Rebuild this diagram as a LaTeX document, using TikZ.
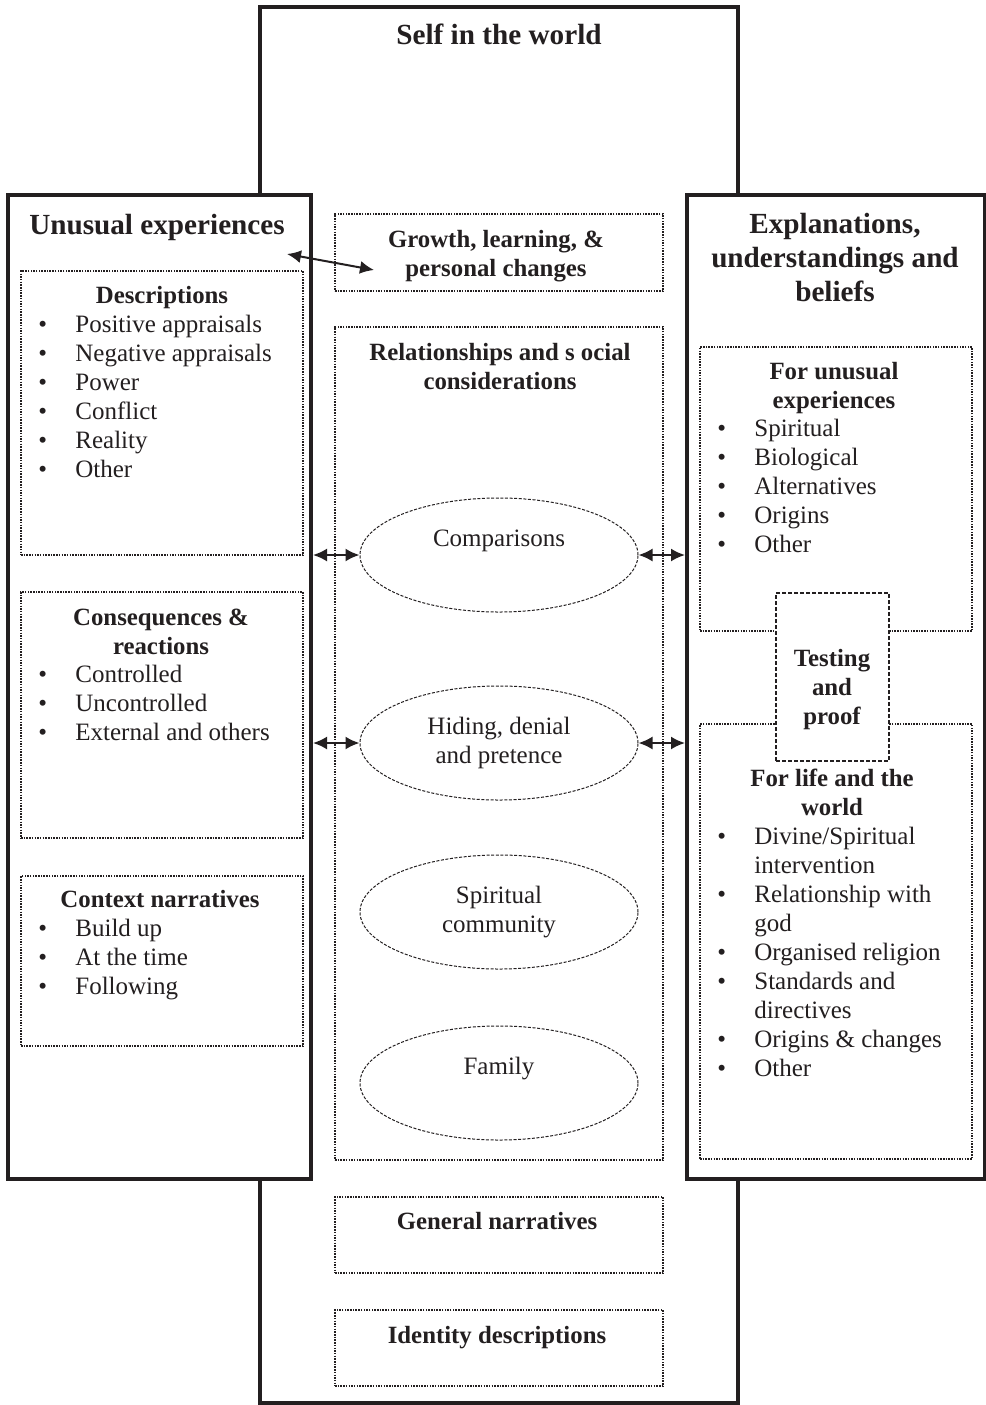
\documentclass[tikz,border=0pt]{standalone}
\usepackage{fontspec}
\setmainfont{Liberation Serif}
\usetikzlibrary{arrows.meta,shapes.geometric,fit}
\definecolor{dk}{HTML}{231F20}
\newcommand\bodyf{\fontsize{12.5pt}{14.5pt}\selectfont}
\newcommand\headf{\fontsize{12.4pt}{14.5pt}\selectfont\bfseries}
\newcommand\bigf{\fontsize{14.6pt}{17pt}\selectfont\bfseries}
\newcommand\clines[1]{\begin{tabular}[t]{@{}c@{}}#1\end{tabular}}
\newcommand\blist[1]{\begin{tabular}[t]{@{}p{18.5pt}@{}l@{}}#1\end{tabular}}
\newcommand\bul{\textbullet}
\begin{document}
\begin{tikzpicture}[x=0.5pt,y=-0.5pt,
  thickline/.style={draw=dk, line width=2pt},
  thickbox/.style={draw=dk, line width=2pt, inner sep=0},
  dotbox/.style={draw=dk, line width=0.75pt, dash pattern=on 0.75pt off 0.6pt, inner sep=0},
  dashbox/.style={draw=dk, line width=0.65pt, dash pattern=on 2pt off 1pt, inner sep=0},
  ell/.style={ellipse, draw=dk, line width=0.5pt, dash pattern=on 1.5pt off 0.8pt, minimum width=139pt, minimum height=57pt, inner sep=0, text=dk},
  txt/.style={inner sep=0, text=dk},
  dbl/.style={draw=dk, line width=1pt, {Latex[length=7pt,width=6.5pt]}-{Latex[length=7pt,width=6.5pt]}}]
\useasboundingbox (0,0) rectangle (986,1405);
\fill[white] (0,0) rectangle (986,1405);
% main frames
\node[thickbox, fit={(8,195)(311,1179)}] (L) {};
\node[thickbox, fit={(687,195)(985,1179)}] (R) {};
\node[inner sep=0, fit={(260,7)(738,1403)}] (S) {};
\draw[thickline] (S.north west |- L.north) -- (S.north west) -- (S.north east) -- (S.north east |- R.north);
\draw[thickline] (S.south west |- L.south) -- (S.south west) -- (S.south east) -- (S.south east |- R.south);
% dotted boxes
\node[dotbox, fit={(21,271)(303,555)}] (desc) {};
\node[dotbox, fit={(21,592)(303,838)}] (cons) {};
\node[dotbox, fit={(21,876)(303,1046)}] (ctx) {};
\node[dotbox, fit={(335,214)(663,291)}] (grow) {};
\node[dotbox, fit={(335,327)(663,1160)}] (rel) {};
\node[dotbox, fit={(335,1197)(663,1273)}] (gen) {};
\node[dotbox, fit={(335,1310)(663,1386)}] (ident) {};
\node[dotbox, fit={(700,347)(972,631)}] (forue) {};
\node[dotbox, fit={(700,724)(972,1159)}] (forlife) {};
\node[dashbox, fill=white, fit={(776,593)(889,761)}] (test) {};
% titles
\node[txt, anchor=base] (selft) at (499,44) {\bigf Self in the world};
\node[txt, anchor=base] (uet) at (157,234) {\bigf Unusual experiences};
\node[txt, anchor=base] (ext) at (835,233) {\bigf\clines{Explanations,\\understandings and\\beliefs}};
% left column
\node[txt, anchor=base] (desct) at (162,303) {\headf Descriptions};
\node[txt, anchor=base west] (descl) at (38,332) {\bodyf\blist{\bul & Positive appraisals\\ \bul & Negative appraisals\\ \bul & Power\\ \bul & Conflict\\ \bul & Reality\\ \bul & Other}};
\node[txt, anchor=base] (const) at (161,625) {\headf\clines{Consequences \&\\reactions}};
\node[txt, anchor=base west] (consl) at (38,682) {\bodyf\blist{\bul & Controlled\\ \bul & Uncontrolled\\ \bul & External and others}};
\node[txt, anchor=base] (ctxt) at (160,907) {\headf Context narratives};
\node[txt, anchor=base west] (ctxl) at (38,936) {\bodyf\blist{\bul & Build up\\ \bul & At the time\\ \bul & Following}};
% centre column
\node[txt, anchor=base] (growt) at (496,247) {\headf\clines{Growth, learning, \&\\personal changes}};
\node[txt, anchor=base] (relt) at (500,360) {\headf\clines{Relationships and s ocial\\considerations}};
\node[txt, anchor=base] (gent) at (497,1229) {\headf General narratives};
\node[txt, anchor=base] (idt) at (497,1343) {\headf Identity descriptions};
\node[ell] (e1) at (499,555) {\bodyf\begin{tabular}{@{}c@{}}Comparisons\\ \mbox{}\end{tabular}};
\node[ell] (e2) at (499,743) {\bodyf\begin{tabular}{@{}c@{}}Hiding, denial\\ and pretence\end{tabular}};
\node[ell] (e3) at (499,912) {\bodyf\begin{tabular}{@{}c@{}}Spiritual\\ community\end{tabular}};
\node[ell] (e4) at (499,1083) {\bodyf\begin{tabular}{@{}c@{}}Family\\ \mbox{}\end{tabular}};
% right column
\node[txt, anchor=base] (fuet) at (834,379) {\headf\clines{For unusual\\experiences}};
\node[txt, anchor=base west] (fuel) at (717,436) {\bodyf\blist{\bul & Spiritual\\ \bul & Biological\\ \bul & Alternatives\\ \bul & Origins\\ \bul & Other}};
\node[txt, anchor=base] (testt) at (832,666) {\headf\clines{Testing\\and\\proof}};
\node[txt, anchor=base] (flt) at (832,786) {\headf\clines{For life and the\\world}};
\node[txt, anchor=base west] (fll) at (717,844) {\bodyf\blist{\bul & Divine/Spiritual\\ & intervention\\ \bul & Relationship with\\ & god\\ \bul & Organised religion\\ \bul & Standards and\\ & directives\\ \bul & Origins \& changes\\ \bul & Other}};
% connectors
\coordinate (a1) at (287,254);
\coordinate (a2) at (374,270);
\draw[dbl] (a1) -- (a2);
\draw[dbl] (e1.west -| L.east) -- (e1.west);
\draw[dbl] (e1.east) -- (e1.east -| R.west);
\draw[dbl] (e2.west -| L.east) -- (e2.west);
\draw[dbl] (e2.east) -- (e2.east -| R.west);
\end{tikzpicture}
\end{document}
